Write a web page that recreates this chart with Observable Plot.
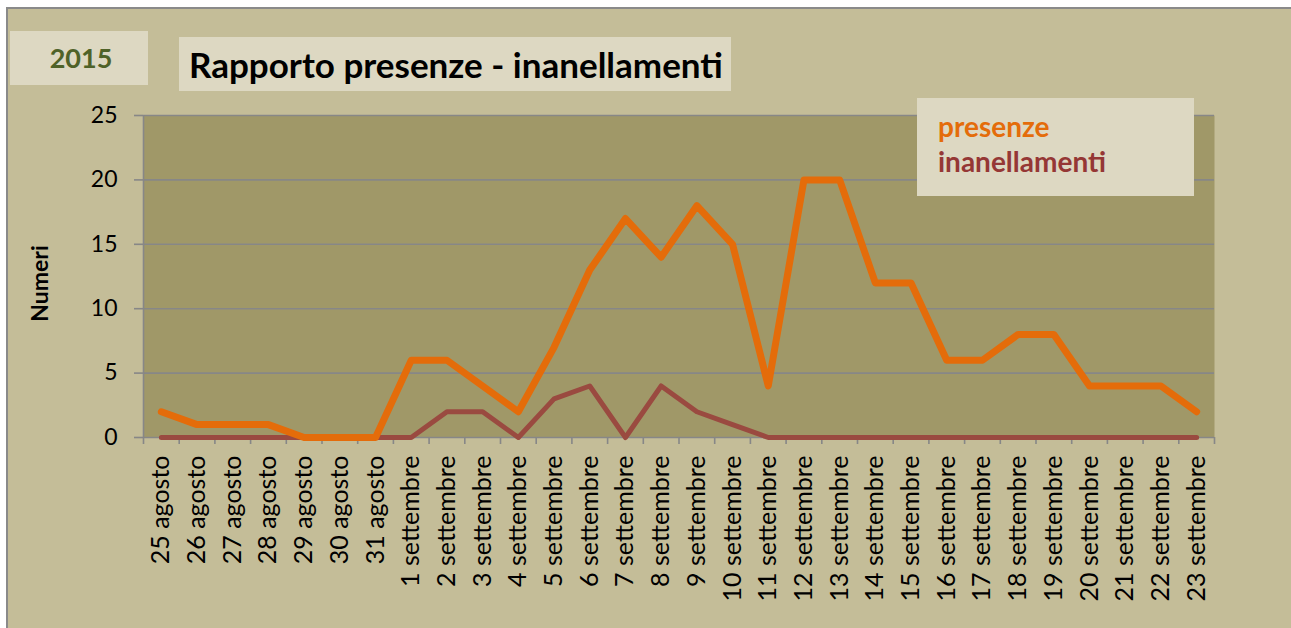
<!DOCTYPE html>
<html>
<head>
<meta charset="utf-8">
<script src="https://cdn.jsdelivr.net/npm/d3@7"></script>
<script src="https://cdn.jsdelivr.net/npm/@observablehq/plot@0.6"></script>
<style>
  html, body { margin: 0; padding: 0; background: #ffffff; width: 1291px; height: 628px; overflow: hidden; font-family: "Lato", "Open Sans", sans-serif; }
  #frame { position: absolute; left: 6px; top: 7px; width: 1285px; height: 621px; background: #c4bd98; border-left: 2px solid #8a8a8a; border-top: 2px solid #8a8a8a; box-sizing: border-box; }
  #chart { position: absolute; left: 0; top: 0; }
  .box { position: absolute; background: #ddd8c2; box-sizing: border-box; font-weight: bold; white-space: nowrap; }
  #year { left: 10px; top: 31px; width: 138px; height: 54px; line-height: 54px; text-align: center; color: #4f6228; font-size: 27px; padding-left: 4px; }
  #title { left: 179px; top: 37px; width: 552px; height: 54px; line-height: 54px; padding-left: 10px; color: #000; font-size: 35px; }
  #legend { left: 917px; top: 98px; width: 277px; height: 98px; padding-left: 21px; padding-top: 11px; font-size: 28px; line-height: 35px; }
</style>
</head>
<body>
<div id="frame"></div>
<div id="chart"></div>
<div id="year" class="box">2015</div>
<div id="title" class="box">Rapporto presenze - inanellamenti</div>
<div id="legend" class="box"></div>
<script>
const categories = [
  "25 agosto","26 agosto","27 agosto","28 agosto","29 agosto","30 agosto","31 agosto",
  "1 settembre","2 settembre","3 settembre","4 settembre","5 settembre","6 settembre","7 settembre",
  "8 settembre","9 settembre","10 settembre","11 settembre","12 settembre","13 settembre","14 settembre",
  "15 settembre","16 settembre","17 settembre","18 settembre","19 settembre","20 settembre","21 settembre",
  "22 settembre","23 settembre"
];
const presenze = [2,1,1,1,0,0,0,6,6,4,2,7,13,17,14,18,15,4,20,20,12,12,6,6,8,8,4,4,4,2];
const inanellamenti = [0,0,0,0,0,0,0,0,2,2,0,3,4,0,4,2,1,0,0,0,0,0,0,0,0,0,0,0,0,0];
const yTicks = [0,5,10,15,20,25];
const seriesNames = ["presenze","inanellamenti"];
const seriesColors = ["#e46c0a","#9a4a40"];
const legendColors = ["#e46c0a","#953735"];

const rows = (vals, s) => vals.map((v, i) => ({i: i + 0.5, cat: categories[i], value: v, series: s}));
const dataP = rows(presenze, seriesNames[0]);
const dataI = rows(inanellamenti, seriesNames[1]);
const centers = categories.map((_, i) => i + 0.5);
const bounds = d3.range(categories.length + 1);
const grey = "#878787";

const chart = Plot.plot({
  width: 1291,
  height: 628,
  marginLeft: 143,
  marginRight: 77,
  marginTop: 115,
  marginBottom: 191,
  style: {background: "transparent", fontFamily: "Lato, 'Open Sans', sans-serif", overflow: "visible"},
  x: {domain: [0, categories.length], axis: null},
  y: {domain: [0, 25], axis: null},
  marks: [
    Plot.frame({fill: "#a09868", stroke: null}),
    Plot.gridY(yTicks, {stroke: grey, strokeOpacity: 1, strokeWidth: 1.6}),
    Plot.ruleX([0], {stroke: grey, strokeWidth: 1.6}),
    Plot.axisY(yTicks, {tickSize: 9, tickPadding: 17, stroke: grey, strokeWidth: 1.6, fill: "#000", fontSize: 23, label: null}),
    Plot.axisX(bounds, {tickSize: 7, tickFormat: () => "", stroke: grey, strokeWidth: 1.6, label: null}),
    Plot.axisX(centers, {tickSize: 0, tickPadding: 18, tickRotate: -90, fontSize: 25, fill: "#000",
      tickFormat: d => categories[Math.round(d - 0.5)], label: null}),
    Plot.text(["Numeri"], {frameAnchor: "left", dx: -103, dy: 7, rotate: -90, textAnchor: "middle", fontSize: 23, fontWeight: "bold", fill: "#000"}),
    Plot.lineY(dataI, {x: "i", y: "value", stroke: seriesColors[1], strokeWidth: 5, strokeLinejoin: "round", strokeLinecap: "round"}),
    Plot.lineY(dataP, {x: "i", y: "value", stroke: seriesColors[0], strokeWidth: 7, strokeLinejoin: "round", strokeLinecap: "round"})
  ]
});
document.getElementById("chart").appendChild(chart);

const legend = document.getElementById("legend");
seriesNames.forEach((name, k) => {
  const d = document.createElement("div");
  d.textContent = name;
  d.style.color = legendColors[k];
  legend.appendChild(d);
});
</script>
</body>
</html>
